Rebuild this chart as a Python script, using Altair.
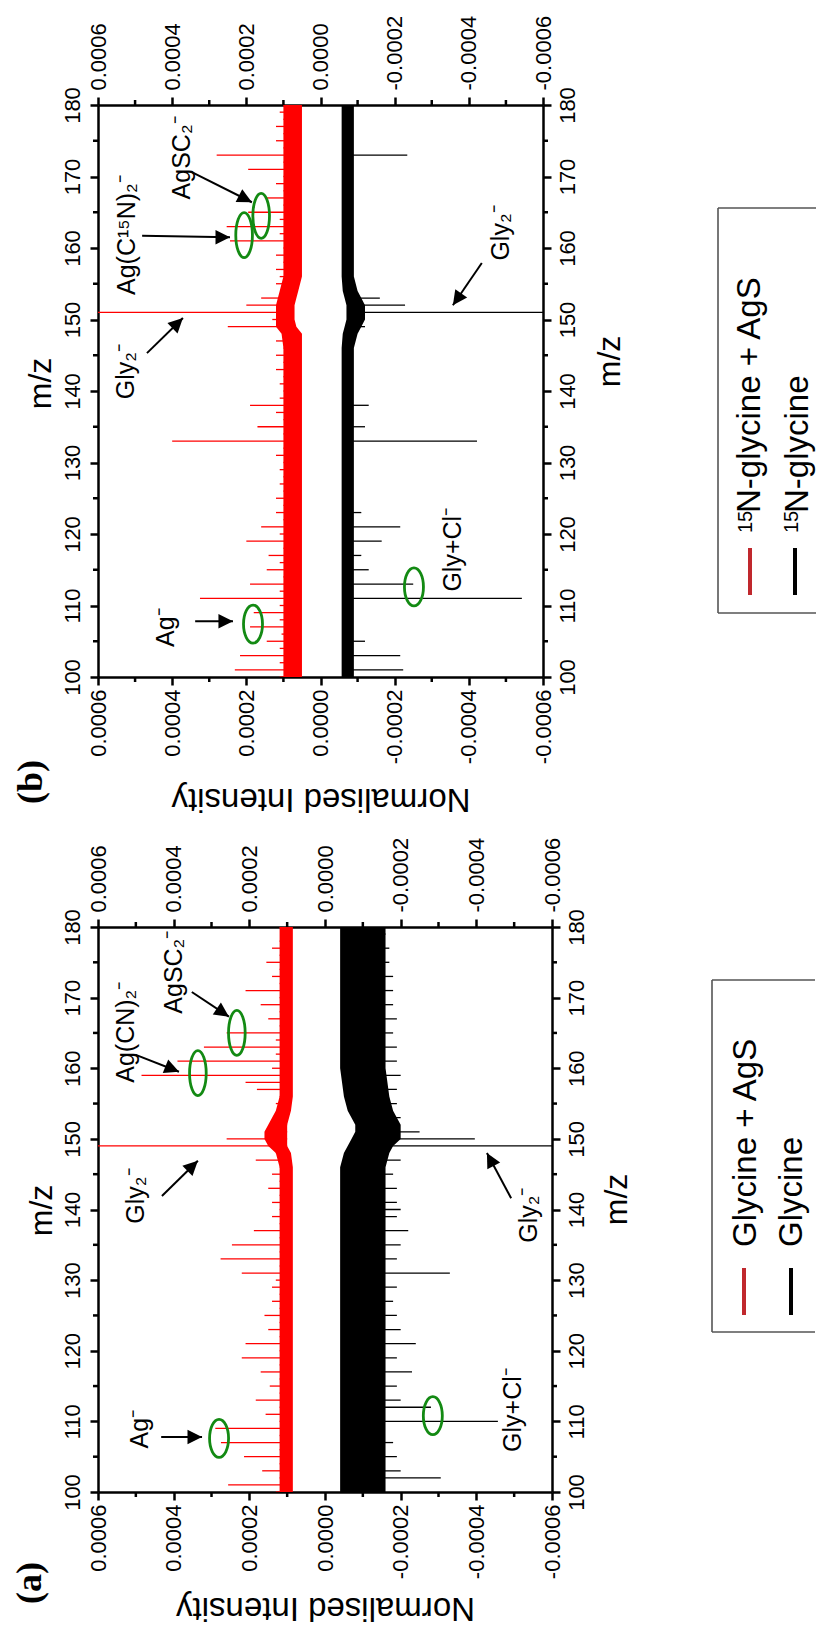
import altair as alt
import pandas as pd

SANS = "Liberation Sans"
SERIF = "Liberation Serif"
RED = "#ff0000"
GREEN = "#138a13"
LEG_RED = "#c0282d"

# ---------------- data ----------------
MZ = list(range(100, 181))

# panel (b): 15N-glycine + AgS (red) -- tip of the spike at every integer m/z
B_RED_TIP = [
    0.00011, 0.000231, 0.00011, 0.000217, 0.00011, 0.000145, 0.000105, 0.00019, 0.00011, 0.00018,   # 100-109
    0.00011, 0.000325, 0.00011, 0.00019, 0.0001, 0.000145, 0.00011, 0.00014, 0.0001, 0.0002,         # 110-119
    0.00011, 0.00016, 0.0001, 0.00012, 0.0001, 0.00012, 0.0001, 0.00011, 0.0001, 0.00011,            # 120-129
    0.0001, 0.00012, 0.0001, 0.0004, 0.0001, 0.00017, 0.0001, 0.00012, 0.00019, 0.00011,             # 130-139
    0.0001, 0.00011, 0.0001, 0.00012, 0.0001, 0.00012, 0.0001, 0.00012, 0.0001, 0.00025,             # 140-149
    0.00013, 0.0007, 0.0002, 0.00016, 0.0001, 0.00012, 0.00011, 0.00012, 0.0001, 0.00012,            # 150-159
    0.0001, 0.000244, 0.00011, 0.000253, 0.00011, 0.000195, 0.0001, 0.00015, 0.0001, 0.00012,        # 160-169
    0.0001, 0.000195, 0.0001, 0.00028, 0.0001, 0.00012, 0.0001, 0.00012, 0.0001, 0.00011,            # 170-179
    0.0001,                                                                                           # 180
]
B_RED_BASE = 0.000075
B_BAND_MZ = [100, 120, 140, 146, 148, 149, 150, 151, 152, 153, 154, 156, 160, 170, 180]
B_RED_LO = [0.00005, 0.00005, 0.00005, 0.00005, 0.00005, 0.000065, 0.00007, 0.00007, 0.00007, 0.000065, 0.00006, 0.00005, 0.00005, 0.00005, 0.00005]
B_RED_HI = [0.0001, 0.0001, 0.0001, 0.0001, 0.000105, 0.00012, 0.00012, 0.00012, 0.00012, 0.000115, 0.00011, 0.0001, 0.0001, 0.0001, 0.0001]

# panel (b): 15N-glycine (black)
B_BLK_PK_MZ = [101, 103, 105, 111, 113, 115, 117, 119, 121, 123, 133, 135, 138, 149, 151, 152, 153, 173]
B_BLK_PK_TIP = [-0.000223, -0.000215, -0.00012, -0.000543, -0.00025, -0.00013, -0.00011, -0.000165, -0.000215,
                -0.00011, -0.000422, -0.00012, -0.00013, -0.00012, -0.0007, -0.000228, -0.00016, -0.000234]
B_BLK_BASE = -0.000073
B_BLK_HI = [-0.000057, -0.000057, -0.000057, -0.000057, -0.00006, -0.000065, -0.00007, -0.00007, -0.00007, -0.000065, -0.00006, -0.000057, -0.000057, -0.000057, -0.000057]
B_BLK_LO = [-0.00009, -0.00009, -0.00009, -0.00009, -0.0001, -0.00011, -0.00012, -0.00012, -0.00012, -0.00011, -0.0001, -0.00009, -0.00009, -0.00009, -0.00009]

# panel (a): Glycine + AgS (red)
A_RED_TIP = [
    0.00013, 0.000256, 0.00012, 0.000166, 0.00012, 0.000214, 0.00012, 0.000275, 0.00012, 0.00029,     # 100-109
    0.00012, 0.000157, 0.00012, 0.000183, 0.00012, 0.000146, 0.00012, 0.00017, 0.00012, 0.00022,      # 110-119
    0.00012, 0.00021, 0.00012, 0.00015, 0.00012, 0.00016, 0.00012, 0.00014, 0.00012, 0.00014,         # 120-129
    0.00013, 0.00022, 0.00012, 0.000276, 0.00012, 0.000246, 0.00012, 0.000188, 0.00012, 0.00014,      # 130-139
    0.00012, 0.00014, 0.00012, 0.00015, 0.00012, 0.00014, 0.00012, 0.000183, 0.00013, 0.0007,         # 140-149
    0.00026, 0.00015, 0.00014, 0.00013, 0.00012, 0.00013, 0.00012, 0.00018, 0.00021, 0.000485,        # 150-159
    0.00014, 0.00039, 0.00013, 0.00032, 0.00013, 0.00026, 0.00012, 0.00015, 0.00012, 0.00017,         # 160-169
    0.00012, 0.00021, 0.00012, 0.00014, 0.00012, 0.000155, 0.00012, 0.00014, 0.00012, 0.000117,       # 170-179
    0.00012,                                                                                          # 180
]
A_RED_BASE = 0.0001
A_BAND_MZ = [100, 120, 140, 146, 148, 149, 150, 151, 152, 153, 154, 156, 160, 170, 180]
A_RED_LO = [0.000085, 0.000085, 0.000085, 0.000085, 0.00009, 0.0001, 0.0001, 0.0001, 0.0001, 0.000095, 0.00009, 0.000085, 0.000085, 0.000085, 0.000085]
A_RED_HI = [0.00012, 0.00012, 0.00012, 0.00012, 0.00013, 0.00015, 0.00016, 0.00016, 0.00015, 0.00014, 0.00013, 0.00012, 0.00012, 0.00012, 0.00012]

# panel (a): Glycine (black)
A_BLK_PK_MZ = [102, 103, 105, 107, 110, 112, 113, 115, 117, 119, 121, 123, 125, 127, 129, 131, 133, 135, 137, 139,
               140, 141, 143, 145, 147, 149, 150, 151, 153, 155, 157, 159, 161, 163, 165, 167, 169, 171, 173, 175, 177, 179]
A_BLK_PK_TIP = [-0.000306, -0.0002, -0.00019, -0.00018, -0.000457, -0.00028, -0.0002, -0.00019, -0.00023, -0.00019,
                -0.00024, -0.0002, -0.00019, -0.00018, -0.00019, -0.00033, -0.00019, -0.0002, -0.00022, -0.00019,
                -0.0002, -0.00019, -0.00019, -0.00018, -0.0002, -0.0007, -0.000396, -0.00025, -0.0002, -0.00019,
                -0.00019, -0.0002, -0.00019, -0.00019, -0.00018, -0.00019, -0.00018, -0.00018, -0.00018, -0.00017,
                -0.00017, -0.00016]
A_BLK_BASE = -0.0001
A_BLK_HI = [-0.00004, -0.00004, -0.00004, -0.00004, -0.00005, -0.00006, -0.00007, -0.00008, -0.00008, -0.00007, -0.00006, -0.00005, -0.00004, -0.00004, -0.00004]
A_BLK_LO = [-0.00016, -0.00016, -0.00016, -0.00016, -0.00017, -0.00018, -0.0002, -0.0002, -0.0002, -0.00019, -0.00018, -0.00017, -0.00016, -0.00016, -0.00016]

# annotations (m/z, intensity)
B_TXT_LABEL = ["Ag\u207b", "Gly+Cl\u207b", "Gly\u2082\u207b", "Gly\u2082\u207b", "Ag(C\u00b9\u2075N)\u2082\u207b", "AgSC\u2082\u207b"]
B_TXT_MZ = [106.9, 117.8, 162.1, 142.7, 161.8, 172.6]
B_TXT_I = [0.000417, -0.000357, -0.000487, 0.000524, 0.000522, 0.000373]

A_TXT_LABEL = ["Ag\u207b", "Gly+Cl\u207b", "Gly\u2082\u207b", "Gly\u2082\u207b", "Ag(CN)\u2082\u207b", "AgSC\u2082\u207b"]
A_TXT_MZ = [108.9, 111.6, 139.2, 141.9, 165.1, 173.6]
A_TXT_I = [0.000489, -0.000497, -0.000539, 0.0005, 0.000526, 0.0004]

B_ARW_MZ0 = [107.8, 145.3, 161.7, 170.6, 157.9]
B_ARW_I0 = [0.000338, 0.000468, 0.000481, 0.000347, -0.000435]
B_ARW_MZ1 = [107.8, 150.2, 161.5, 166.4, 152.0]
B_ARW_I1 = [0.000236, 0.000371, 0.000244, 0.000185, -0.000357]
B_ARW_ANG = [90, 46, 90, 117, 215]

A_ARW_MZ0 = [107.8, 141.9, 161.9, 170.8, 141.6]
A_ARW_I0 = [0.000433, 0.000431, 0.0005, 0.000352, -0.000492]
A_ARW_MZ1 = [107.8, 146.9, 159.5, 167.3, 148.0]
A_ARW_I1 = [0.000325, 0.000336, 0.000386, 0.000254, -0.000428]
A_ARW_ANG = [90, 46, 112, 124, 332]

# ellipses: (wide ones, narrow ones)
B_ELW_MZ = [107.4, 112.6]
B_ELW_I = [0.000182, -0.000252]
B_ELN_MZ = [161.8, 164.5]
B_ELN_I = [0.000206, 0.00016]
A_ELW_MZ = [107.6, 110.8]
A_ELW_I = [0.00028, -0.000285]
A_ELN_MZ = [159.3, 165.0]
A_ELN_I = [0.000336, 0.000233]

X_TICKS = [-0.0006, -0.0004, -0.0002, 0.0, 0.0002, 0.0004, 0.0006]
X_MINOR = [-0.0005, -0.0003, -0.0001, 0.0001, 0.0003, 0.0005]
Y_TICKS = list(range(100, 181, 10))
Y_MINOR = list(range(105, 180, 10))

# ---------------- chart ----------------
XS = alt.Scale(domain=[-0.0006, 0.0006], reverse=True, nice=False, zero=False)
YS = alt.Scale(domain=[100, 180], nice=False, zero=False)
LABEL_EXPR = "replace(format(datum.value, '.4f'), '\u2212', '-')"

ELL_WIDE = "M -0.5 0 A 0.5 1 0 1 1 0.5 0 A 0.5 1 0 1 1 -0.5 0 Z"
ELL_NARROW = "M -0.37 0 A 0.37 1 0 1 1 0.37 0 A 0.37 1 0 1 1 -0.37 0 Z"
HEAD = "M 0 0 L -0.8 1.6 L 0.8 1.6 Z"

COMMON = dict(grid=False, domainColor="black", domainWidth=2.5, tickColor="black", tickWidth=2.5,
              tickSize=8, labelFont=SANS, labelFontSize=22, labelColor="black",
              labelOverlap=False, labelFlush=False)


def y_axis(orient, tx, ty):
    return alt.Axis(orient=orient, values=Y_TICKS, format="d", labelAngle=270, labelAlign="center",
                    labelBaseline="bottom" if orient == "left" else "top", labelPadding=6,
                    title="m/z", titleFont=SANS, titleFontSize=32, titleFontWeight="normal",
                    titleColor="black", titleAngle=270, titleAlign="center", titleBaseline="middle",
                    titleX=tx, titleY=ty, **COMMON)


def x_axis_bottom(ty):
    return alt.Axis(orient="bottom", values=X_TICKS, labelExpr=LABEL_EXPR, labelAngle=270,
                    labelAlign="right", labelBaseline="middle", labelPadding=4,
                    title="Normalised Intensity", titleFont=SANS, titleFontSize=33,
                    titleFontWeight="normal", titleColor="black", titleAngle=180, titleAlign="center",
                    titleBaseline="middle", titleY=ty, **COMMON)


def x_axis_top():
    return alt.Axis(orient="top", values=X_TICKS, labelExpr=LABEL_EXPR, labelAngle=270,
                    labelAlign="left", labelBaseline="middle", labelPadding=7, title=None, **COMMON)


def X(f):
    return alt.X(f, scale=XS, axis=None)


def Y(f):
    return alt.Y(f, scale=YS, axis=None)


def panel(W, H, red_tip, red_base, band_mz, red_lo, red_hi, blk_mz, blk_tip, blk_base, blk_lo, blk_hi,
          txt, arw, elw, eln, tit, legend, label):
    red_band = pd.DataFrame({"mz": band_mz, "lo": red_lo, "hi": red_hi})
    blk_band = pd.DataFrame({"mz": band_mz, "lo": blk_lo, "hi": blk_hi})
    red_pk = pd.DataFrame({"mz": MZ, "tip": red_tip, "base": [red_base] * len(MZ)})
    blk_pk = pd.DataFrame({"mz": blk_mz, "tip": blk_tip, "base": [blk_base] * len(blk_mz)})

    layers = []
    layers.append(alt.Chart(red_band).mark_area(orient="horizontal", color=RED, clip=True).encode(
        y=alt.Y("mz:Q", scale=YS, axis=y_axis("left", tit[0], tit[1])),
        x=alt.X("lo:Q", scale=XS, axis=x_axis_bottom(tit[4])), x2="hi:Q"))
    layers.append(alt.Chart(red_pk).mark_rule(color=RED, strokeWidth=1.3, clip=True).encode(
        y=Y("mz:Q"), x=X("base:Q"), x2="tip:Q"))
    layers.append(alt.Chart(blk_band).mark_area(orient="horizontal", color="black", clip=True).encode(
        y=alt.Y("mz:Q", scale=YS, axis=y_axis("right", tit[2], tit[3])),
        x=alt.X("lo:Q", scale=XS, axis=x_axis_top()), x2="hi:Q"))
    layers.append(alt.Chart(blk_pk).mark_rule(color="black", strokeWidth=1.3, clip=True).encode(
        y=Y("mz:Q"), x=X("base:Q"), x2="tip:Q"))

    # minor ticks
    ym = pd.DataFrame({"mz": Y_MINOR})
    xm = pd.DataFrame({"v": X_MINOR})
    layers.append(alt.Chart(ym).mark_rule(color="black", strokeWidth=2.5).encode(
        y=Y("mz:Q"), x=alt.value(0), x2=alt.value(-5)))
    layers.append(alt.Chart(ym).mark_rule(color="black", strokeWidth=2.5).encode(
        y=Y("mz:Q"), x=alt.value(W), x2=alt.value(W + 5)))
    layers.append(alt.Chart(xm).mark_rule(color="black", strokeWidth=2.5).encode(
        x=X("v:Q"), y=alt.value(0), y2=alt.value(-5)))
    layers.append(alt.Chart(xm).mark_rule(color="black", strokeWidth=2.5).encode(
        x=X("v:Q"), y=alt.value(H), y2=alt.value(H + 5)))

    # ellipses
    layers.append(alt.Chart(pd.DataFrame({"mz": elw[0], "I": elw[1]})).mark_point(
        shape=ELL_WIDE, size=1444, filled=False, color=GREEN, strokeWidth=2.8, opacity=1).encode(
        x=X("I:Q"), y=Y("mz:Q")))
    layers.append(alt.Chart(pd.DataFrame({"mz": eln[0], "I": eln[1]})).mark_point(
        shape=ELL_NARROW, size=2025, filled=False, color=GREEN, strokeWidth=2.8, opacity=1).encode(
        x=X("I:Q"), y=Y("mz:Q")))

    # arrows
    adf = pd.DataFrame({"mz0": arw[0], "I0": arw[1], "mz1": arw[2], "I1": arw[3], "ang": arw[4]})
    layers.append(alt.Chart(adf).mark_rule(color="black", strokeWidth=2).encode(
        x=X("I0:Q"), x2="I1:Q", y=Y("mz0:Q"), y2="mz1:Q"))
    layers.append(alt.Chart(adf).mark_point(shape=HEAD, size=330, filled=True, color="black", opacity=1).encode(
        x=X("I1:Q"), y=Y("mz1:Q"), angle=alt.Angle("ang:Q", scale=None)))

    # texts
    tdf = pd.DataFrame({"mz": txt[0], "I": txt[1], "t": txt[2]})
    layers.append(alt.Chart(tdf).mark_text(angle=270, font=SANS, fontSize=25, color="black",
                                           align="center", baseline="middle").encode(
        x=X("I:Q"), y=Y("mz:Q"), text="t:N"))

    # legend (drawn in pixels)
    L, T, B, R = legend["box"]
    for (xa, xb, ya, yb) in [(L, L, T, B), (L, R, T, T), (L, R, B, B)]:
        layers.append(alt.Chart().mark_rule(color="#555555", strokeWidth=1.6).encode(
            x=alt.value(xa), x2=alt.value(xb), y=alt.value(ya), y2=alt.value(yb)))
    for (xx, col) in [(legend["line_x"][0], LEG_RED), (legend["line_x"][1], "black")]:
        layers.append(alt.Chart().mark_rule(color=col, strokeWidth=4).encode(
            x=alt.value(xx), x2=alt.value(xx), y=alt.value(legend["line_y"][0]), y2=alt.value(legend["line_y"][1])))
    for (xx, yy, s, fs) in legend["texts"]:
        layers.append(alt.Chart().mark_text(angle=270, font=SANS, fontSize=fs, color="black",
                                            align="left", baseline="alphabetic").encode(
            x=alt.value(xx), y=alt.value(yy), text=alt.value(s)))

    # panel label
    layers.append(alt.Chart().mark_text(angle=270, font=SERIF, fontWeight="bold", fontSize=36,
                                        color="black", align="center", baseline="middle").encode(
        x=alt.value(label[1]), y=alt.value(label[2]), text=alt.value(label[0])))

    return alt.layer(*layers).resolve_axis(x="independent", y="independent").properties(width=W, height=H)


WB, HB = 445, 572
WA, HA = 454, 565

panel_b = panel(
    WB, HB, B_RED_TIP, B_RED_BASE, B_BAND_MZ, B_RED_LO, B_RED_HI,
    B_BLK_PK_MZ, B_BLK_PK_TIP, B_BLK_BASE, B_BLK_LO, B_BLK_HI,
    (B_TXT_MZ, B_TXT_I, B_TXT_LABEL),
    (B_ARW_MZ0, B_ARW_I0, B_ARW_MZ1, B_ARW_I1, B_ARW_ANG),
    (B_ELW_MZ, B_ELW_I), (B_ELN_MZ, B_ELN_I),
    (-58, 278, 66, 256, 121),
    {"box": (620, 103, 508, 718), "line_x": (652, 697), "line_y": (443, 490),
     "texts": [(654, 428, "15", 20), (662, 408, "N-glycine + AgS", 33),
               (700, 428, "15", 20), (710, 408, "N-glycine", 33)]},
    ("(b)", -67, 677),
)

panel_a = panel(
    WA, HA, A_RED_TIP, A_RED_BASE, A_BAND_MZ, A_RED_LO, A_RED_HI,
    A_BLK_PK_MZ, A_BLK_PK_TIP, A_BLK_BASE, A_BLK_LO, A_BLK_HI,
    (A_TXT_MZ, A_TXT_I, A_TXT_LABEL),
    (A_ARW_MZ0, A_ARW_I0, A_ARW_MZ1, A_ARW_I1, A_ARW_ANG),
    (A_ELW_MZ, A_ELW_I), (A_ELN_MZ, A_ELN_I),
    (-57, 283, 64, 272, 115),
    {"box": (614, 53, 405, 717), "line_x": (646, 693), "line_y": (341, 388),
     "texts": [(658, 320, "Glycine + AgS", 33), (704, 320, "Glycine", 33)]},
    ("(a)", -68, 656),
)

chart = alt.vconcat(panel_b, panel_a, spacing=23).properties(
    padding={"left": 12, "top": 15, "right": 0, "bottom": 14}
).configure_view(stroke=None)

chart.save("out.html", embed_options={"renderer": "svg", "actions": False})
